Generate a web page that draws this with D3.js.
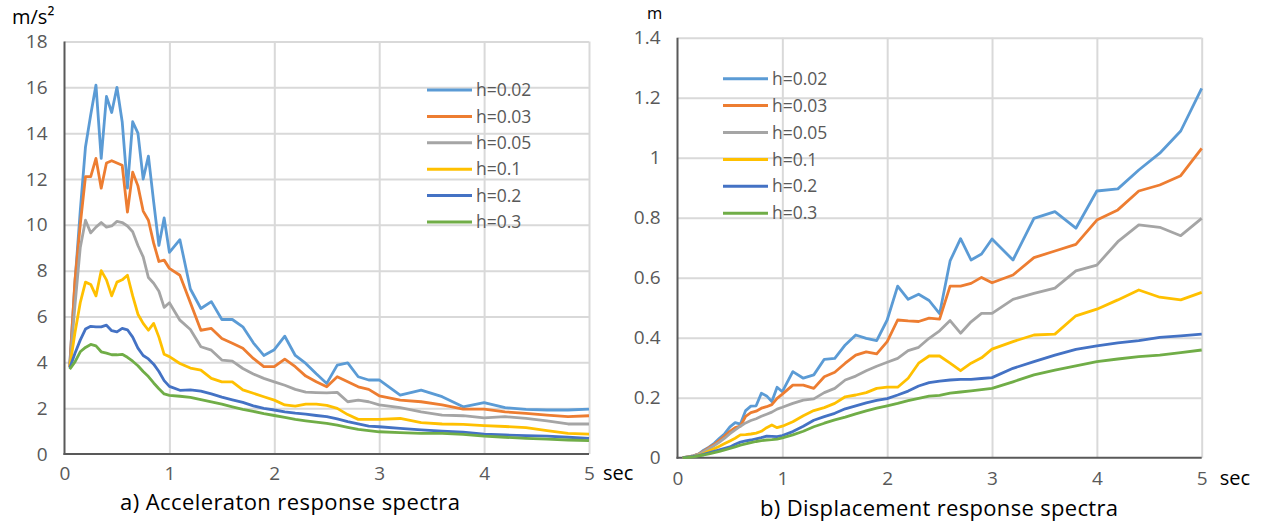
<!DOCTYPE html>
<html>
<head>
<meta charset="utf-8">
<script src="https://d3js.org/d3.v7.min.js"></script>
<style>
body { margin: 0; background: #fff; }
svg text { font-family: "Open Sans", sans-serif; }
.tick text { fill: #595959; font-size: 19px; }
.grid line { stroke: #d9d9d9; stroke-width: 2; }
.grid .domain { display: none; }
.axisline { stroke: #595959; stroke-width: 2; }
.series { fill: none; stroke-width: 2.8; stroke-linejoin: round; }
.legend text { fill: #595959; font-size: 17.5px; }
</style>
</head>
<body>
<svg width="1263" height="523"></svg>
<script>

// periods (sec)
var periods = [0.05,0.1,0.15,0.2,0.25,0.3,0.35,0.4,0.45,0.5,
  0.55,0.6,0.65,0.7,0.75,0.8,0.85,0.9,0.95,1.0,
  1.1,1.2,1.3,1.4,1.5,1.6,1.7,1.8,1.9,2.0,
  2.1,2.2,2.3,2.4,2.5,2.6,2.7,2.8,2.9,3.0,
  3.2,3.4,3.6,3.8,4.0,4.2,4.4,4.6,4.8,5.0];

var dampings = ["h=0.02", "h=0.03", "h=0.05", "h=0.1", "h=0.2", "h=0.3"];
var colors = ["#5b9bd5", "#ed7d31", "#a5a5a5", "#ffc000", "#4472c4", "#70ad47"];

// acceleration response (m/s2)
var acc002 = [3.9,7.5,10.6,13.4,14.8,16.1,12.9,15.6,14.9,16.0,
  14.5,11.6,14.5,14.0,12.0,13.0,11.0,9.1,10.3,8.8,
  9.35,7.2,6.35,6.65,5.87,5.87,5.55,4.85,4.3,4.55,
  5.14,4.3,3.95,3.5,3.08,3.88,3.98,3.37,3.23,3.23,
  2.57,2.79,2.5,2.06,2.24,2.02,1.95,1.92,1.92,1.96];
var acc003 = [3.8,7.6,10.0,12.1,12.1,12.9,11.6,12.7,12.8,12.7,
  12.6,10.56,12.3,11.7,10.6,10.2,9.2,8.4,8.46,8.1,
  7.8,6.6,5.4,5.48,5.04,4.83,4.61,4.17,3.81,3.81,
  4.14,3.81,3.4,3.15,2.93,3.37,3.15,2.93,2.82,2.54,
  2.35,2.28,2.14,1.96,1.96,1.84,1.77,1.70,1.63,1.67];
var acc005 = [3.8,6.5,9.0,10.2,9.65,9.9,10.1,9.9,9.95,10.15,
  10.1,9.95,9.7,9.1,8.6,7.7,7.45,7.1,6.4,6.6,
  5.84,5.43,4.68,4.53,4.1,4.05,3.73,3.49,3.3,3.15,
  3.0,2.82,2.7,2.68,2.67,2.69,2.28,2.35,2.28,2.14,
  2.02,1.84,1.70,1.67,1.58,1.63,1.55,1.45,1.31,1.31];
var acc01 = [3.8,5.3,6.6,7.5,7.4,6.9,8.0,7.6,6.9,7.5,
  7.6,7.8,6.9,6.1,5.7,5.4,5.7,5.1,4.35,4.25,
  3.95,3.75,3.66,3.3,3.15,3.15,2.8,2.65,2.5,2.35,
  2.14,2.09,2.18,2.18,2.12,1.99,1.72,1.51,1.51,1.51,
  1.55,1.37,1.31,1.29,1.24,1.2,1.15,1.02,0.9,0.87];
var acc02 = [3.75,4.4,4.97,5.45,5.57,5.55,5.55,5.62,5.38,5.33,
  5.48,5.42,5.1,4.62,4.3,4.15,3.92,3.6,3.2,2.95,
  2.78,2.8,2.74,2.62,2.48,2.36,2.25,2.1,1.99,1.92,
  1.84,1.78,1.74,1.68,1.63,1.53,1.41,1.31,1.22,1.19,
  1.12,1.05,1.0,0.95,0.87,0.83,0.8,0.78,0.73,0.68];
var acc03 = [3.7,4.02,4.46,4.65,4.78,4.72,4.46,4.4,4.33,4.33,
  4.35,4.22,4.05,3.85,3.6,3.38,3.1,2.85,2.62,2.56,
  2.52,2.47,2.37,2.27,2.18,2.06,1.95,1.86,1.76,1.68,
  1.6,1.51,1.45,1.39,1.34,1.26,1.16,1.07,1.02,0.97,
  0.93,0.9,0.9,0.86,0.78,0.73,0.68,0.65,0.61,0.58];

// displacement response (m)
var disp002 = [0.0,0.003,0.006,0.012,0.025,0.035,0.048,0.065,0.08,0.103,
  0.117,0.112,0.157,0.172,0.173,0.215,0.206,0.187,0.235,0.22,
  0.287,0.265,0.276,0.328,0.331,0.376,0.409,0.398,0.39,0.459,
  0.572,0.528,0.545,0.524,0.48,0.656,0.73,0.659,0.679,0.729,
  0.659,0.798,0.82,0.765,0.889,0.896,0.959,1.015,1.089,1.231];
var disp003 = [0.0,0.003,0.006,0.012,0.022,0.033,0.044,0.058,0.072,0.088,
  0.1,0.105,0.138,0.15,0.155,0.165,0.17,0.177,0.198,0.212,
  0.242,0.242,0.231,0.27,0.285,0.315,0.342,0.353,0.346,0.387,
  0.459,0.456,0.454,0.465,0.462,0.572,0.572,0.581,0.601,0.583,
  0.609,0.667,0.689,0.711,0.792,0.826,0.889,0.909,0.94,1.031];
var disp005 = [0.0,0.003,0.006,0.011,0.02,0.03,0.04,0.052,0.065,0.08,
  0.093,0.105,0.116,0.124,0.13,0.138,0.145,0.152,0.162,0.168,
  0.181,0.192,0.196,0.217,0.231,0.259,0.272,0.29,0.305,0.318,
  0.331,0.357,0.368,0.398,0.423,0.457,0.415,0.453,0.481,0.481,
  0.528,0.548,0.565,0.623,0.642,0.72,0.776,0.768,0.74,0.798];
var disp01 = [0.0,0.002,0.004,0.008,0.014,0.022,0.03,0.038,0.047,0.056,
  0.065,0.076,0.077,0.079,0.082,0.088,0.1,0.109,0.1,0.105,
  0.12,0.14,0.157,0.167,0.181,0.203,0.209,0.217,0.231,0.235,
  0.235,0.265,0.315,0.339,0.339,0.315,0.29,0.315,0.333,0.362,
  0.387,0.409,0.412,0.473,0.495,0.526,0.559,0.535,0.526,0.551];
var disp02 = [0.0,0.002,0.004,0.007,0.011,0.016,0.021,0.026,0.031,0.036,
  0.045,0.052,0.056,0.059,0.063,0.067,0.072,0.071,0.07,0.074,
  0.087,0.105,0.125,0.137,0.148,0.163,0.173,0.183,0.191,0.197,
  0.209,0.222,0.239,0.25,0.255,0.259,0.261,0.261,0.264,0.267,
  0.298,0.32,0.342,0.361,0.373,0.383,0.39,0.401,0.406,0.412];
var disp03 = [0.0,0.001,0.003,0.006,0.009,0.013,0.017,0.021,0.026,0.031,
  0.036,0.042,0.046,0.05,0.054,0.057,0.059,0.06,0.062,0.066,
  0.076,0.088,0.103,0.115,0.126,0.135,0.146,0.156,0.165,0.173,
  0.181,0.19,0.198,0.205,0.208,0.215,0.219,0.223,0.227,0.231,
  0.253,0.276,0.292,0.306,0.32,0.329,0.337,0.342,0.35,0.359];

var xTicks = [0, 1, 2, 3, 4, 5];
var accTicks = [0, 2, 4, 6, 8, 10, 12, 14, 16, 18];
var dispTicks = [0, 0.2, 0.4, 0.6, 0.8, 1, 1.2, 1.4];

var svg = d3.select("svg");

function drawChart(c) {
  var x = d3.scaleLinear().domain([0, 5]).range([c.left, c.right]);
  var y = d3.scaleLinear().domain([0, c.yMax]).range([c.bottom, c.top]);

  // gridlines
  svg.append("g")
      .attr("class", "grid")
      .attr("transform", "translate(0," + c.bottom + ")")
      .call(d3.axisBottom(x).tickValues(xTicks.slice(1)).tickSize(-(c.bottom - c.top)).tickFormat(""));
  svg.append("g")
      .attr("class", "grid")
      .attr("transform", "translate(" + c.left + ",0)")
      .call(d3.axisLeft(y).tickValues(c.yTicks.slice(1)).tickSize(-(c.right - c.left)).tickFormat(""));

  // tick labels
  svg.append("g")
      .attr("transform", "translate(0," + c.bottom + ")")
      .call(d3.axisBottom(x).tickValues(xTicks).tickSize(0).tickPadding(c.xPad).tickFormat(d3.format("d")))
      .call(function(g) { g.select(".domain").remove(); });
  svg.append("g")
      .attr("transform", "translate(" + c.left + ",0)")
      .call(d3.axisLeft(y).tickValues(c.yTicks).tickSize(0).tickPadding(17).tickFormat(function(d) { return String(d); }))
      .call(function(g) { g.select(".domain").remove(); });

  // axis lines
  svg.append("line").attr("class", "axisline")
      .attr("x1", c.left).attr("x2", c.left).attr("y1", c.top).attr("y2", c.bottom + 1);
  svg.append("line").attr("class", "axisline")
      .attr("x1", c.left - 1).attr("x2", c.right).attr("y1", c.bottom).attr("y2", c.bottom);

  var line = d3.line()
      .x(function(d, i) { return x(periods[i]); })
      .y(function(d) { return y(d); });

  svg.append("g").selectAll("path")
    .data(c.series)
    .enter().append("path")
      .attr("class", "series")
      .attr("stroke", function(d, i) { return colors[i]; })
      .attr("d", line);

  // legend
  var lg = svg.append("g").attr("class", "legend")
    .selectAll("g")
    .data(dampings)
    .enter().append("g")
      .attr("transform", function(d, i) { return "translate(" + c.legX + "," + (c.legY + i * c.legStep) + ")"; });
  lg.append("line")
      .attr("x1", 0).attr("x2", 45)
      .attr("stroke", function(d, i) { return colors[i]; })
      .attr("stroke-width", 3);
  lg.append("text")
      .attr("x", 49).attr("dy", "0.35em")
      .text(function(d) { return d; });

  // unit, sec and caption
  svg.append("text")
      .attr("x", c.unitX).attr("y", c.unitY)
      .attr("font-size", c.unitSize).attr("fill", "#000")
      .text(c.unit);
  svg.append("text")
      .attr("x", c.right + c.secDx).attr("y", c.bottom + c.xPad + 13)
      .attr("font-size", 20).attr("fill", "#000")
      .text("sec");
  svg.append("text")
      .attr("x", c.titleX).attr("y", c.titleY)
      .attr("text-anchor", "middle")
      .attr("font-size", 22).attr("fill", "#000")
      .attr("textLength", c.titleW).attr("lengthAdjust", "spacing")
      .text(c.title);
}

drawChart({
  left: 64.5, right: 589, top: 41.5, bottom: 454, yMax: 18, yTicks: accTicks, xPad: 13,
  series: [acc002, acc003, acc005, acc01, acc02, acc03],
  legX: 427, legY: 90, legStep: 26.4,
  unit: "m/s²", unitX: 12, unitY: 24, unitSize: 20, secDx: 14,
  title: "a) Acceleraton response spectra", titleX: 290, titleY: 510, titleW: 340
});

drawChart({
  left: 677.5, right: 1201.7, top: 37.7, bottom: 457.7, yMax: 1.4, yTicks: dispTicks, xPad: 14,
  series: [disp002, disp003, disp005, disp01, disp02, disp03],
  legX: 723, legY: 78.7, legStep: 26.9,
  unit: "m", unitX: 647, unitY: 19, unitSize: 16.5, secDx: 18,
  title: "b) Displacement response spectra", titleX: 939, titleY: 516, titleW: 358
});

</script>
</body>
</html>
